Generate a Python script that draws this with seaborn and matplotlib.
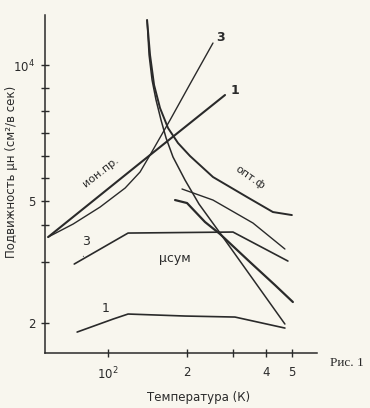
import numpy as np
import pandas as pd
import matplotlib
matplotlib.use("Agg")
import matplotlib.pyplot as plt
from matplotlib.ticker import NullLocator
import seaborn as sns

# ---------------- data: temperature (K) vs Hall mobility (cm^2/V s) -------------
ion1_T = [59.1, 132.3, 278.6]
ion1_mu = [3815, 6068, 8582]
ion3_T = [59.1, 73.6, 93.2, 116.1, 132.3, 144.4, 172.1, 205.0, 250.7]
ion3_mu = [3815, 4207, 4779, 5343, 5797, 6321, 7554, 9076, 11186]
steep_T = [140.7, 143.2, 147.0, 152.2, 159.0, 166.2, 176.6, 196.2, 221.8, 266.7, 346.7, 471.0]
steep_mu = [12575, 10522, 9264, 8366, 7554, 6893, 6257, 5565, 4888, 3931, 2868, 1985]
opt_T = [140.7, 144.4, 149.6, 157.6, 169.1, 184.5, 205.0, 250.7, 337.8, 424.0, 500.7]
opt_mu = [12575, 10522, 9031, 8031, 7252, 6719, 6289, 5651, 5103, 4603, 4500]
thick_T = [179.8, 199.7, 233.8, 266.7, 346.7, 431.5, 505.1]
thick_mu = [5025, 4925, 4271, 3902, 3162, 2661, 2342]
thin_T = [191.1, 250.7, 355.9, 471.0]
thin_mu = [5316, 5025, 4239, 3487]
sum3_T = [74.3, 119.1, 298.8, 483.5]
sum3_mu = [3115, 3931, 3961, 3186]
sum1_T = [76.2, 104.5, 119.1, 196.2, 304.0, 471.0]
sum1_mu = [1869, 2061, 2140, 2108, 2092, 1926]

x_ticks = [100, 200, 300, 400, 500]
x_labels = ["$10^2$", "2", "", "4", "5"]
y_ticks = [2000, 5000, 10000]
y_labels = ["2", "5", "$10^4$"]
y_minor = [3160, 4180, 5620, 6290, 7070, 7910, 8900]

# ---------------- hand-drawn y axis: piecewise log scale ----------------
L0, L1 = np.log10(2000), np.log10(5000)
S0 = 122 / (L1 - L0)
S1 = 136 / (4 - L1)


def fwd(v):
    v = np.asarray(v, float)
    with np.errstate(divide="ignore", invalid="ignore"):
        L = np.log10(np.where(v > 0, v, np.nan))
    return np.where(L < L1, (L - L0) * S0, 122 + (L - L1) * S1)


def inv(p):
    p = np.asarray(p, float)
    L = np.where(p < 122, L0 + p / S0, L1 + (p - 122) / S1)
    return 10 ** L


sns.set_style("ticks")
plt.rcParams["font.family"] = ["DejaVu Sans"]

ink = "#2a2a2a"
paper = "#f8f6ee"

fig = plt.figure(figsize=(3.70, 4.08), dpi=100, facecolor=paper)
ax = fig.add_axes([45 / 370, 55 / 408, 272 / 370, 338 / 408])
ax.set_facecolor(paper)
ax.set_xscale("log")
ax.set_yscale("function", functions=(fwd, inv))

curves = [
    (ion1_T, ion1_mu, 1.5),
    (ion3_T, ion3_mu, 1.0),
    (steep_T, steep_mu, 1.1),
    (opt_T, opt_mu, 1.4),
    (thick_T, thick_mu, 1.6),
    (thin_T, thin_mu, 1.0),
    (sum3_T, sum3_mu, 1.2),
    (sum1_T, sum1_mu, 1.2),
]
for T, mu, lw in curves:
    df = pd.DataFrame({"T": T, "mu": mu})
    sns.lineplot(data=df, x="T", y="mu", ax=ax, sort=False, estimator=None,
                 color=ink, lw=lw, legend=False)

ax.set_xlim(57.5, 624)
ax.set_ylim(1597, 12903)

ax.set_xticks(x_ticks, labels=x_labels)
ax.xaxis.set_minor_locator(NullLocator())
ax.set_yticks(y_ticks, labels=y_labels)
ax.set_yticks(y_minor, minor=True)
ax.tick_params(which="both", direction="inout", length=6, width=1.0,
               colors=ink, labelsize=8.5, pad=4)
ax.tick_params(axis="x", pad=6)
for s in ("top", "right"):
    ax.spines[s].set_visible(False)
for s in ("left", "bottom"):
    ax.spines[s].set_color(ink)
    ax.spines[s].set_linewidth(1.1)
ax.set_xlabel("")
ax.set_ylabel("")

# in-plot annotations
ax.text(94.1, 5797, "ион.пр.", rotation=38, fontsize=8, color=ink,
        ha="center", va="center")
ax.text(346.7, 5640, "опт.ф", rotation=-35, fontsize=8, color=ink,
        ha="center", va="center")
ax.text(179.8, 3259, "μсум", fontsize=9, color=ink, ha="center", va="center")
ax.annotate("3", xy=(80.5, 3300), xytext=(82.5, 3702), fontsize=9, color=ink,
            ha="center", va="center",
            arrowprops=dict(arrowstyle="-", color=ink, lw=0.8, shrinkA=4, shrinkB=0))
ax.text(97.4, 2238, "1", fontsize=9, color=ink, ha="center", va="center")
ax.text(266.7, 11532, "3", fontsize=9, color=ink, ha="center", va="center",
        fontweight="bold")
ax.text(304.0, 8803, "1", fontsize=9, color=ink, ha="center", va="center",
        fontweight="bold")

fig.text(199 / 370, 1 - 398 / 408, "Температура (К)", fontsize=8.5, color=ink,
         ha="center", va="center")
fig.text(12 / 370, 1 - 172 / 408, "Подвижность μн (см²/в сек)", fontsize=8.5,
         color=ink, rotation=90, ha="center", va="center")
fig.text(330 / 370, 1 - 363 / 408, "Рис. 1", fontsize=9.5, color=ink,
         ha="left", va="center", family=["Liberation Serif", "DejaVu Serif"])

fig.savefig("out.png", dpi=100, facecolor=paper)
